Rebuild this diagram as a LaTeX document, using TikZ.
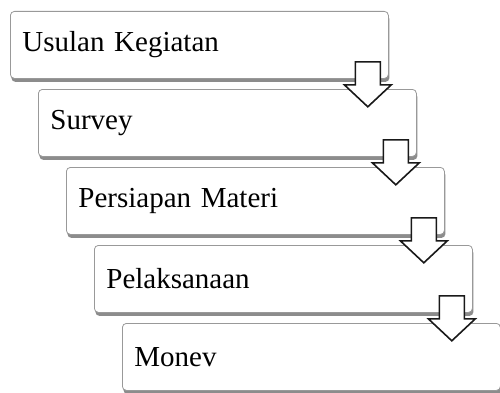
\documentclass[tikz,border=0pt]{standalone}
\usepackage{fontspec}
\setmainfont{Liberation Serif}
\usetikzlibrary{calc,shadows}
\tikzset{
  stepbox/.style={draw=black!40, line width=0.8pt, fill=white, rounded corners=4pt,
    minimum width=378pt, minimum height=67pt, text width=354pt, inner xsep=12pt,
    align=left, anchor=north west, font=\fontsize{29}{34}\selectfont,
    drop shadow={shadow xshift=1pt, shadow yshift=-3.5pt, fill=black, opacity=0.45}},
  flowarrow/.style={draw=black!90, line width=1.6pt, fill=white, line join=miter}
}
\newcommand{\downarrowshape}[1]{%
  \draw[flowarrow] ($(#1.south east)+(-33.5,17)$) -- ++(25,0) -- ++(0,-23) -- ++(11,0)
    -- ++(-23.5,-22) -- ++(-23.5,22) -- ++(11,0) -- cycle;}
\begin{document}
\begin{tikzpicture}[x=1pt,y=1pt]
\useasboundingbox (0,0) rectangle (500,392);
\begin{scope}
\clip (0,0) rectangle (500,392);
\node[stepbox] (b1) at (10,381) {Usulan Kegiatan};
\node[stepbox] (b2) at (38,303) {Survey};
\node[stepbox] (b3) at (66,225) {Persiapan Materi};
\node[stepbox] (b4) at (94,147) {Pelaksanaan};
\node[stepbox] (b5) at (122,69) {Monev};
\downarrowshape{b1}
\downarrowshape{b2}
\downarrowshape{b3}
\downarrowshape{b4}
\end{scope}
\end{tikzpicture}
\end{document}
